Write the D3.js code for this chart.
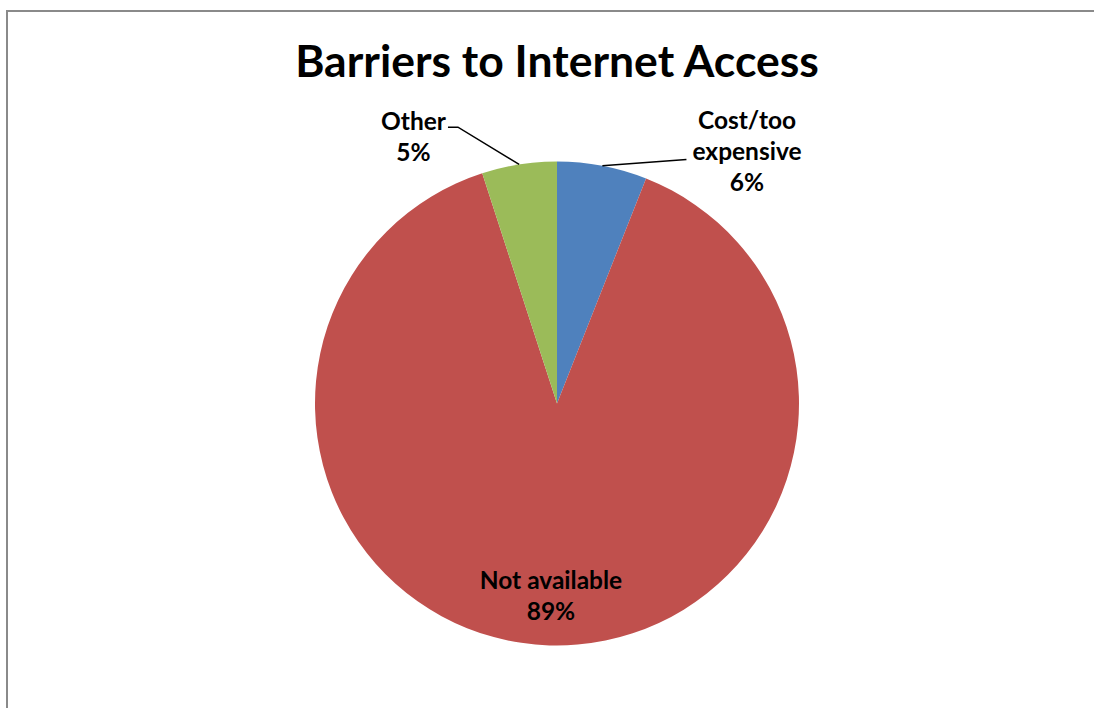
<!DOCTYPE html>
<html>
<head>
<meta charset="utf-8">
<script src="https://cdn.jsdelivr.net/npm/d3@7"></script>
<style>
  html, body { margin: 0; padding: 0; background: #fff; }
  svg { display: block; }
  text { font-family: Lato, "Open Sans", "Liberation Sans", sans-serif; font-weight: bold; fill: #000; }
</style>
</head>
<body>
<svg id="chart" width="1094" height="708"></svg>
<script>
// Survey answers: why households have no internet access (share of responses, %)
const categories = ["Cost/too expensive", "Not available", "Other"];
const values = [6, 89, 5];
const labelLines = [["Cost/too", "expensive"], ["Not available"], ["Other"]];
const colors = ["#4F81BD", "#C0504D", "#9BBB59"];
const title = "Barriers to Internet Access";

const W = 1094, H = 708;
const svg = d3.select("#chart");

// chart-area frame (only top and left edges fall inside the view)
svg.append("rect")
  .attr("x", 7).attr("y", 11)
  .attr("width", W + 20).attr("height", H + 20)
  .attr("fill", "none")
  .attr("stroke", "#8a8a8a")
  .attr("stroke-width", 2);

svg.append("text")
  .attr("x", 557).attr("y", 77)
  .attr("text-anchor", "middle")
  .attr("font-size", 44.5)
  .text(title);

const cx = 557, cy = 403.5, r = 242;
const g = svg.append("g").attr("transform", `translate(${cx},${cy})`);

const pie = d3.pie().sort(null).value(d => d.value).startAngle(0).endAngle(2 * Math.PI);
const data = categories.map((c, i) => ({ name: c, value: values[i], lines: labelLines[i], color: colors[i] }));
const arcs = pie(data);
const total = d3.sum(values);

const arc = d3.arc().innerRadius(0).outerRadius(r);

g.selectAll("path.slice")
  .data(arcs)
  .join("path")
  .attr("class", "slice")
  .attr("d", arc)
  .attr("fill", d => d.data.color);

const fs = 24.5, lh = 31;
const pct = v => Math.round(v / total * 100) + "%";

// label placement: inside for large slice, outside with leader for small ones
// offsets are the label block's centre relative to the pie centre
const outside = {
  "Cost/too expensive": { dx: 190, dy: -252.5, side: "left" },
  "Other": { dx: -143.5, dy: -267, side: "right" }
};

const pointAt = (angle, rad) => [Math.sin(angle) * rad, -Math.cos(angle) * rad];

arcs.forEach(a => {
  const lines = a.data.lines.concat([pct(a.data.value)]);
  const mid = (a.startAngle + a.endAngle) / 2;
  let bx, by;
  const o = outside[a.data.name];
  if (o) {
    bx = o.dx; by = o.dy;
  } else {
    [bx, by] = pointAt(mid, r * 0.796);
  }
  const n = lines.length;
  const firstBase = by - (n - 1) * lh / 2 + fs * 0.35;
  const t = g.append("text")
    .attr("text-anchor", "middle")
    .attr("font-size", fs);
  lines.forEach((s, i) => {
    t.append("tspan").attr("x", bx).attr("y", firstBase + i * lh).text(s);
  });

  if (o) {
    const p0 = pointAt(mid, r);
    let path;
    if (o.side === "right") {
      // leader meets the first line's right end
      const w = t.select("tspan").node().getComputedTextLength();
      const ly = firstBase - fs * 0.1;
      const ex = bx + w / 2 + 2;
      path = [p0, [ex + 10, ly], [ex, ly]];
    } else {
      // leader meets the middle line's left end
      const tsp = t.selectAll("tspan").nodes();
      const w = tsp[1].getComputedTextLength();
      const ly = firstBase + lh;
      path = [p0, [bx - w / 2 - 6, ly]];
    }
    g.append("path")
      .attr("d", d3.line()(path))
      .attr("fill", "none")
      .attr("stroke", "#000")
      .attr("stroke-width", 1.5);
  }
});
</script>
</body>
</html>
